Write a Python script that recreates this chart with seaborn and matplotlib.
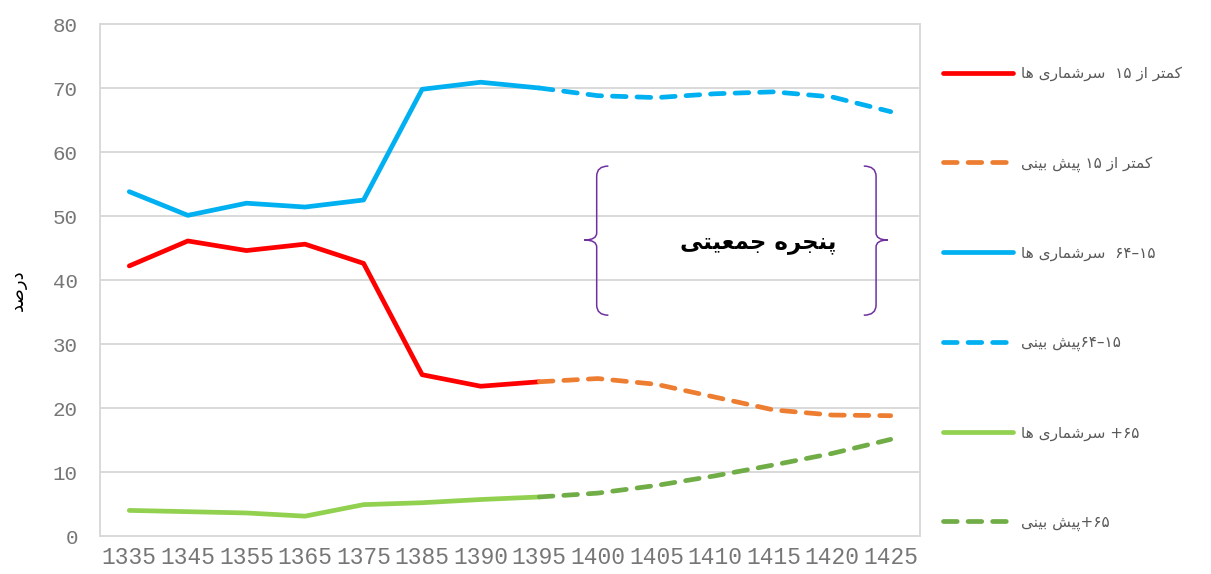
import re
import numpy as np
import pandas as pd
import seaborn as sns
import matplotlib
matplotlib.use("Agg")
import matplotlib.pyplot as plt
from matplotlib.path import Path
from matplotlib.patches import PathPatch

# ---- data -------------------------------------------------------------
years = ['1335', '1345', '1355', '1365', '1375', '1385', '1390',
         '1395', '1400', '1405', '1410', '1415', '1420', '1425']
census_years = years[:8]
forecast_years = years[7:]

under15_census = [42.2, 46.1, 44.6, 45.6, 42.6, 25.2, 23.4, 24.1]
under15_forecast = [24.1, 24.6, 23.7, 21.7, 19.7, 18.9, 18.8]
working_census = [53.8, 50.1, 52.0, 51.4, 52.5, 69.8, 70.9, 70.0]
working_forecast = [70.0, 68.8, 68.5, 69.1, 69.4, 68.6, 66.3]
over65_census = [4.0, 3.8, 3.6, 3.1, 4.9, 5.2, 5.7, 6.1]
over65_forecast = [6.1, 6.7, 7.9, 9.4, 11.1, 12.9, 15.1]

labels = [
    'کمتر از ۱۵  سرشماری ها',
    'کمتر از ۱۵ پیش بینی',
    '۱۵–۶۴  سرشماری ها',
    '۱۵–۶۴پیش بینی',
    '۶۵+ سرشماری ها',
    '۶۵+پیش بینی',
]
y_label = 'درصد'
window_label = 'پنجره جمعیتی'

colors = ['#FF0000', '#ED7D31', '#00B0F0', '#00B0F0', '#92D050', '#70AD47']

# ---- minimal Persian shaping (contextual forms + visual order) ---------
FORMS = {
    'ا': ('\uFE8D', '\uFE8E', None, None),
    'ب': ('\uFE8F', '\uFE90', '\uFE91', '\uFE92'),
    'ت': ('\uFE95', '\uFE96', '\uFE97', '\uFE98'),
    'ج': ('\uFE9D', '\uFE9E', '\uFE9F', '\uFEA0'),
    'د': ('\uFEA9', '\uFEAA', None, None),
    'ر': ('\uFEAD', '\uFEAE', None, None),
    'ز': ('\uFEAF', '\uFEB0', None, None),
    'س': ('\uFEB1', '\uFEB2', '\uFEB3', '\uFEB4'),
    'ش': ('\uFEB5', '\uFEB6', '\uFEB7', '\uFEB8'),
    'ص': ('\uFEB9', '\uFEBA', '\uFEBB', '\uFEBC'),
    'ع': ('\uFEC9', '\uFECA', '\uFECB', '\uFECC'),
    'م': ('\uFEE1', '\uFEE2', '\uFEE3', '\uFEE4'),
    'ن': ('\uFEE5', '\uFEE6', '\uFEE7', '\uFEE8'),
    'ه': ('\uFEE9', '\uFEEA', '\uFEEB', '\uFEEC'),
    'پ': ('\uFB56', '\uFB57', '\uFB58', '\uFB59'),
    'ک': ('\uFB8E', '\uFB8F', '\uFB90', '\uFB91'),
    'ی': ('\uFBFC', '\uFBFD', '\uFBFE', '\uFBFF'),
}


def fa(text):
    out = []
    for i, ch in enumerate(text):
        f = FORMS.get(ch)
        if f is None:
            out.append(ch)
            continue
        prev = text[i - 1] if i > 0 else ''
        nxt = text[i + 1] if i + 1 < len(text) else ''
        join_prev = prev in FORMS and FORMS[prev][2] is not None
        join_next = f[2] is not None and nxt in FORMS
        if join_prev and join_next:
            out.append(f[3])
        elif join_prev:
            out.append(f[1])
        elif join_next:
            out.append(f[2])
        else:
            out.append(f[0])
    runs = re.findall(r'[0-9\u06F0-\u06F9]+|.', ''.join(out))
    return ''.join(reversed(runs))


# ---- long-form table ----------------------------------------------------
pos = {y: i for i, y in enumerate(years)}
series = [
    (labels[0], census_years, under15_census),
    (labels[1], forecast_years, under15_forecast),
    (labels[2], census_years, working_census),
    (labels[3], forecast_years, working_forecast),
    (labels[4], census_years, over65_census),
    (labels[5], forecast_years, over65_forecast),
]
rows = []
for name, xs, vals in series:
    for x, v in zip(xs, vals):
        rows.append({'series': name, 'year': x, 'pos': pos[x], 'value': v})
df = pd.DataFrame(rows)

# ---- figure -----------------------------------------------------------
sns.set_theme(style='white')
plt.rcParams['font.family'] = ['DejaVu Sans']

W, H = 1211, 574
fig = plt.figure(figsize=(W / 100, H / 100), dpi=100)
ax = fig.add_axes([100 / W, 1 - 536 / H, 820 / W, 512 / H])

grid_c = '#D9D9D9'
for y in range(10, 80, 10):
    ax.axhline(y, color=grid_c, lw=1.4, zorder=0)

for k, (name, _, _) in enumerate(series):
    sub = df[df['series'] == name]
    dashed = (k % 2 == 1)
    kw = dict(lw=3.4, solid_capstyle='round')
    if dashed:
        kw.update(linestyle=(0, (2.9, 2.3)), dash_capstyle='round')
    sns.lineplot(data=sub, x='pos', y='value', color=colors[k], ax=ax,
                 label=fa(name), sort=False, zorder=3, **kw)

ax.set_xlim(-0.5, len(years) - 0.5)
ax.set_ylim(0, 80)
ax.set_xticks(range(len(years)))
ax.set_xticklabels(years)
ax.set_yticks(range(0, 81, 10))
ax.tick_params(axis='both', length=0, colors='#767676')
ax.tick_params(axis='x', pad=7)
ax.tick_params(axis='y', pad=16)
for t in ax.get_xticklabels():
    t.set_fontfamily('Liberation Mono')
    t.set_fontsize(16.5)
for t in ax.get_yticklabels():
    t.set_fontfamily('Liberation Mono')
    t.set_fontsize(15)
ax.set_xlabel('')
ax.set_ylabel('')
fig.text(18 / W, 1 - 290 / H, fa(y_label), rotation=90, ha='center',
         va='center', fontsize=13, color='black')
for s in ax.spines.values():
    s.set_color(grid_c)
    s.set_linewidth(1.4)

# ---- curly braces around the demographic window ------------------------
def brace(ax, xv, xe, xt, yt, yb, ym, r=1.6, r2=1.1):
    verts = [(xe, yt), (xv, yt), (xv, yt - r), (xv, ym + r2),
             (xv, ym), (xt, ym), (xv, ym), (xv, ym - r2),
             (xv, yb + r), (xv, yb), (xe, yb)]
    codes = [Path.MOVETO, Path.CURVE3, Path.CURVE3, Path.LINETO,
             Path.CURVE3, Path.CURVE3, Path.CURVE3, Path.CURVE3,
             Path.LINETO, Path.CURVE3, Path.CURVE3]
    ax.add_patch(PathPatch(Path(verts, codes), fill=False,
                           edgecolor='#7030A0', lw=1.1, zorder=4))

brace(ax, xv=7.98, xe=8.18, xt=7.77, yt=57.8, yb=34.5, ym=46.25)
brace(ax, xv=12.75, xe=12.54, xt=12.95, yt=57.8, yb=34.5, ym=46.25)
ax.text(10.73, 45.8, fa(window_label), ha='center', va='center',
        fontsize=16.5, fontweight='bold', color='black', zorder=5)

# ---- legend -------------------------------------------------------------
handles, labs = ax.get_legend_handles_labels()
if ax.legend_ is not None:
    ax.legend_.remove()
fig.legend(handles, labs, loc='upper left',
           bbox_to_anchor=(943 / W, 1 - 66 / H), frameon=False,
           fontsize=11, labelcolor='#595959', handlelength=4.6,
           handletextpad=0.5, labelspacing=4.85, borderpad=0,
           borderaxespad=0)

fig.savefig('out.png', dpi=100)
